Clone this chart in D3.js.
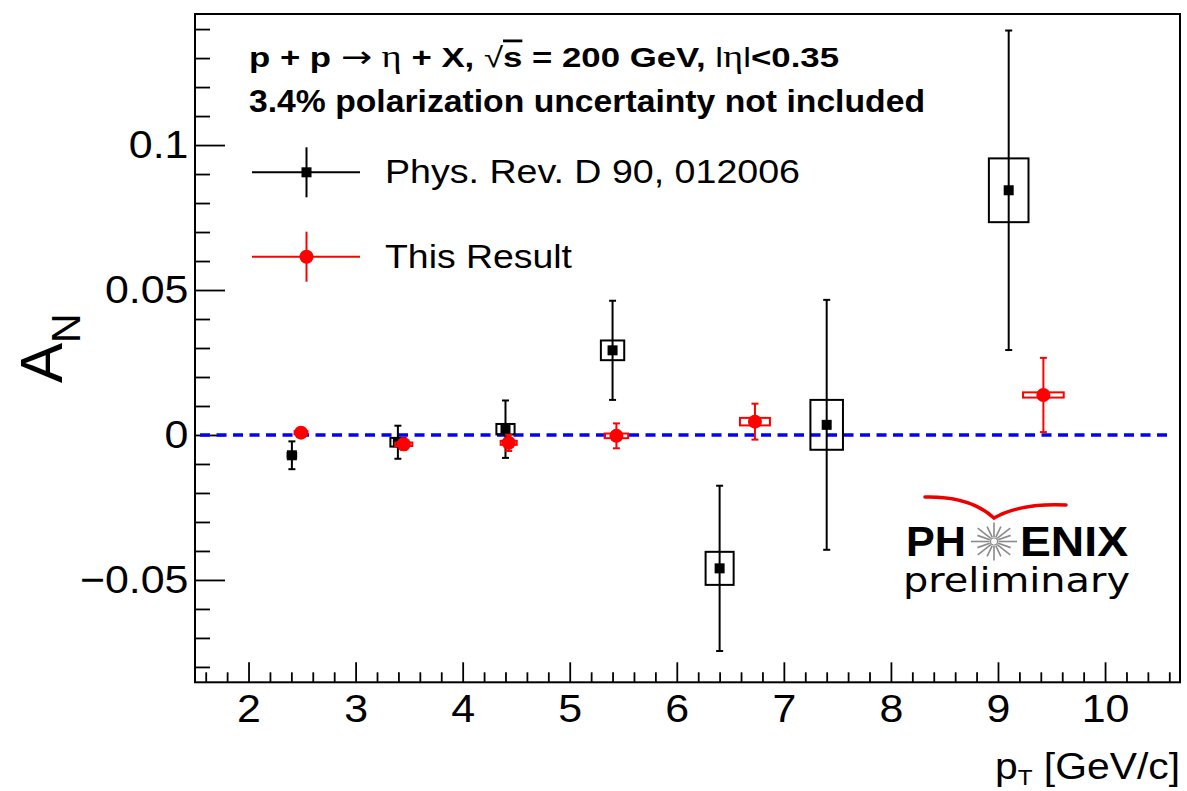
<!DOCTYPE html>
<html>
<head>
<meta charset="utf-8">
<script src="https://cdn.jsdelivr.net/npm/d3@7"></script>
<style>
body { margin:0; background:#fff; }
svg { display:block; font-family: "Liberation Sans", Arial, Helvetica, sans-serif; }
</style>
</head>
<body>
<svg id="chart" width="1187" height="791"></svg>
<script>
"use strict";

// Phys. Rev. D 90, 012006 (black squares)
var prdPt   = [2.405, 3.395, 4.40, 5.40, 6.40, 7.40, 9.10];
var prdAN   = [-0.0070, -0.0025, 0.0020, 0.0292, -0.0460, 0.0035, 0.0844];
var prdStat = [0.0048, 0.0057, 0.0099, 0.0171, 0.0285, 0.0431, 0.0551];
var prdSys  = [0.0008, 0.0015, 0.0018, 0.0034, 0.0057, 0.0086, 0.0110];
var prdBinW = [0.04, 0.07, 0.085, 0.109, 0.131, 0.152, 0.185];

// this result (red circles)
var newPt   = [2.49, 3.45, 4.43, 5.436, 6.73, 9.424];
var newAN   = [0.0008, -0.0032, -0.0027, -0.0003, 0.0046, 0.0138];
var newStat = [0.0015, 0.0020, 0.0028, 0.0043, 0.0062, 0.0128];
var newSys  = [0.0005, 0.0006, 0.0007, 0.0008, 0.0013, 0.0009];
var newBinW = [0.06, 0.08, 0.075, 0.11, 0.14, 0.19];

var xTicks = [2, 3, 4, 5, 6, 7, 8, 9, 10];
var yTicks = [-0.05, 0, 0.05, 0.1];
var yTickLabels = ["\u22120.05", "0", "0.05", "0.1"];
var legendNames = ["Phys. Rev. D 90, 012006", "This Result"];
var zeroLine = [1.547, 10.625];

var svg = d3.select("#chart");

var x = d3.scaleLinear().domain([1.5, 10.7]).range([195, 1180]);
var y = d3.scaleLinear().domain([-0.0853, 0.1452]).range([682.3, 14]);

var minorX = d3.range(8, 54).filter(function(i){ return i % 5 !== 0; }).map(function(i){ return i/5; });
var minorY = d3.range(-8, 15).filter(function(i){ return i % 5 !== 0; }).map(function(i){ return i/100; });

// axes (ticks point inward, ROOT style)
function styleAxis(g) {
	g.select(".domain").remove();
	g.selectAll(".tick line").attr("stroke", "#000").attr("stroke-width", 1.8);
	g.selectAll(".tick text").attr("fill", "#000")
		.style("font-size", "39px")
		.style("font-family", "\"Liberation Sans\", Arial, Helvetica, sans-serif");
}

var gxMinor = svg.append("g").attr("transform", "translate(0,682.3)")
	.call(d3.axisBottom(x).tickValues(minorX).tickSize(-10).tickFormat(""));
styleAxis(gxMinor);
var gx = svg.append("g").attr("transform", "translate(0,682.3)")
	.call(d3.axisBottom(x).tickValues(xTicks).tickSize(-20).tickPadding(12).tickFormat(d3.format("d")));
styleAxis(gx);
gx.selectAll(".tick text").attr("transform", "scale(1.1,1)");

var gyMinor = svg.append("g").attr("transform", "translate(195,0)")
	.call(d3.axisLeft(y).tickValues(minorY).tickSize(-15).tickFormat(""));
styleAxis(gyMinor);
var gy = svg.append("g").attr("transform", "translate(195,0)")
	.call(d3.axisLeft(y).tickValues(yTicks).tickSize(-30).tickPadding(6)
		.tickFormat(function(d, i){ return yTickLabels[i]; }));
styleAxis(gy);
gy.selectAll(".tick text").attr("transform", "scale(1.1,1)");

// frame
svg.append("rect")
	.attr("x", 195).attr("y", 14)
	.attr("width", 985).attr("height", 668.3)
	.attr("fill", "none").attr("stroke", "#000").attr("stroke-width", 2);

// zero line
svg.append("line")
	.attr("x1", x(zeroLine[0])).attr("x2", x(zeroLine[1]))
	.attr("y1", y(0)).attr("y2", y(0))
	.attr("stroke", "#0000ff").attr("stroke-width", 3.5)
	.attr("stroke-dasharray", "10,6.5");

function drawSeries(pt, an, stat, sys, binW, color, kind) {
	var g = svg.append("g");
	var idx = d3.range(pt.length);

	g.selectAll("rect.sys").data(idx).enter().append("rect")
		.attr("class", "sys")
		.attr("x", function(i){ return x(pt[i] - binW[i]); })
		.attr("width", function(i){ return x(pt[i] + binW[i]) - x(pt[i] - binW[i]); })
		.attr("y", function(i){ return y(an[i] + sys[i]); })
		.attr("height", function(i){ return y(an[i] - sys[i]) - y(an[i] + sys[i]); })
		.attr("fill", "none").attr("stroke", color).attr("stroke-width", 2);

	g.selectAll("line.stat").data(idx).enter().append("line")
		.attr("class", "stat")
		.attr("x1", function(i){ return x(pt[i]); })
		.attr("x2", function(i){ return x(pt[i]); })
		.attr("y1", function(i){ return y(an[i] + stat[i]); })
		.attr("y2", function(i){ return y(an[i] - stat[i]); })
		.attr("stroke", color).attr("stroke-width", 2);

	[1, -1].forEach(function(s){
		g.selectAll("line.cap" + (s > 0 ? "u" : "d")).data(idx).enter().append("line")
			.attr("x1", function(i){ return x(pt[i]) - 3.5; })
			.attr("x2", function(i){ return x(pt[i]) + 3.5; })
			.attr("y1", function(i){ return y(an[i] + s*stat[i]); })
			.attr("y2", function(i){ return y(an[i] + s*stat[i]); })
			.attr("stroke", color).attr("stroke-width", 2);
	});

	if (kind === "square") {
		g.selectAll("rect.mk").data(idx).enter().append("rect")
			.attr("x", function(i){ return x(pt[i]) - 5; })
			.attr("y", function(i){ return y(an[i]) - 5; })
			.attr("width", 10).attr("height", 10)
			.attr("fill", color);
	} else {
		g.selectAll("circle.mk").data(idx).enter().append("circle")
			.attr("cx", function(i){ return x(pt[i]); })
			.attr("cy", function(i){ return y(an[i]); })
			.attr("r", 7)
			.attr("fill", color);
	}
}

drawSeries(prdPt, prdAN, prdStat, prdSys, prdBinW, "#000", "square");
drawSeries(newPt, newAN, newStat, newSys, newBinW, "#ff0000", "circle");

// legend
var legY = [172.3, 256.7];
var legText = [415, 187];
legendNames.forEach(function(name, i){
	var c = i === 0 ? "#000" : "#ff0000";
	var lg = svg.append("g");
	lg.append("line").attr("x1", 252).attr("x2", 360).attr("y1", legY[i]).attr("y2", legY[i])
		.attr("stroke", c).attr("stroke-width", 2);
	lg.append("line").attr("x1", 306.5).attr("x2", 306.5).attr("y1", legY[i] - 25).attr("y2", legY[i] + 25)
		.attr("stroke", c).attr("stroke-width", 2);
	if (i === 0) {
		lg.append("rect").attr("x", 301.5).attr("y", legY[i] - 5).attr("width", 10).attr("height", 10).attr("fill", c);
	} else {
		lg.append("circle").attr("cx", 306.5).attr("cy", legY[i]).attr("r", 7).attr("fill", c);
	}
	lg.append("text").attr("x", 385).attr("y", legY[i] + 11)
		.attr("textLength", legText[i]).attr("lengthAdjust", "spacingAndGlyphs")
		.style("font-size", "34px").text(name);
});

// header
var h1 = svg.append("text").attr("x", 249).attr("y", 66.5)
	.attr("textLength", 590).attr("lengthAdjust", "spacingAndGlyphs")
	.style("font-size", "28px").style("font-weight", "bold");
h1.append("tspan").text("p + p  ");
h1.append("tspan").style("font-weight", "normal").style("font-family", "\"DejaVu Sans\"").style("font-size", "30px").text("\u2192");
h1.append("tspan").style("font-weight", "normal").style("font-family", "\"Liberation Serif\", serif").style("font-size", "31px").text("  \u03B7");
h1.append("tspan").text(" + X,  ");
h1.append("tspan").style("font-weight", "normal").text("\u221A");
h1.append("tspan").style("text-decoration", "overline").text("s");
h1.append("tspan").text(" = 200 GeV, ");
h1.append("tspan").style("font-weight", "normal").text("l");
h1.append("tspan").style("font-weight", "normal").style("font-family", "\"Liberation Serif\", serif").style("font-size", "31px").text("\u03B7");
h1.append("tspan").style("font-weight", "normal").text("l");
h1.append("tspan").text("<0.35");

svg.append("text").attr("x", 249).attr("y", 111.5)
	.attr("textLength", 676).attr("lengthAdjust", "spacingAndGlyphs")
	.style("font-size", "31px").style("font-weight", "bold")
	.text("3.4% polarization uncertainty not included");

// axis titles
var xt = svg.append("text").attr("x", 1180).attr("y", 779).attr("text-anchor", "end")
	.attr("textLength", 185).attr("lengthAdjust", "spacingAndGlyphs")
	.style("font-size", "37px");
xt.append("tspan").text("p");
xt.append("tspan").attr("dy", 6).style("font-size", "22px").text("T");
xt.append("tspan").attr("dy", -6).text(" [GeV/c]");

var yt = svg.append("text").attr("transform", "translate(62,383) rotate(-90)")
	.style("font-size", "60px");
yt.append("tspan").text("A");
yt.append("tspan").attr("dy", 18).style("font-size", "41px").text("N");

// PHENIX preliminary logo
var logo = svg.append("g");
logo.append("path")
	.attr("d", "M925,497 Q970,496 994,518 Q1020,503 1066,505")
	.attr("fill", "none").attr("stroke", "#ee0000").attr("stroke-width", 3.5)
	.attr("stroke-linecap", "round").attr("stroke-linejoin", "miter");
logo.append("text").attr("x", 906).attr("y", 556)
	.attr("textLength", 60).attr("lengthAdjust", "spacingAndGlyphs")
	.style("font-size", "42px").style("font-weight", "bold").text("PH");
logo.append("text").attr("x", 1020).attr("y", 556)
	.attr("textLength", 108).attr("lengthAdjust", "spacingAndGlyphs")
	.style("font-size", "42px").style("font-weight", "bold").text("ENIX");
var burst = logo.append("g").attr("transform", "translate(994,541.5)");
burst.selectAll("line").data(d3.range(16)).enter().append("line")
	.attr("x1", function(k){ return 4.5 * Math.cos(k * Math.PI / 8); })
	.attr("y1", function(k){ return 4.5 * Math.sin(k * Math.PI / 8); })
	.attr("x2", function(k){ return (k % 2 ? 18 : 23) * Math.cos(k * Math.PI / 8); })
	.attr("y2", function(k){ return (k % 2 ? 16 : 19) * Math.sin(k * Math.PI / 8); })
	.attr("stroke", "#8a8a8a").attr("stroke-width", 1.6);
burst.append("circle").attr("r", 3.5).attr("fill", "none").attr("stroke", "#8a8a8a").attr("stroke-width", 1.2);
logo.append("text").attr("x", 903).attr("y", 592)
	.attr("textLength", 227).attr("lengthAdjust", "spacingAndGlyphs")
	.style("font-size", "33px").style("font-family", "\"DejaVu Sans\", sans-serif")
	.text("preliminary");
</script>
</body>
</html>
